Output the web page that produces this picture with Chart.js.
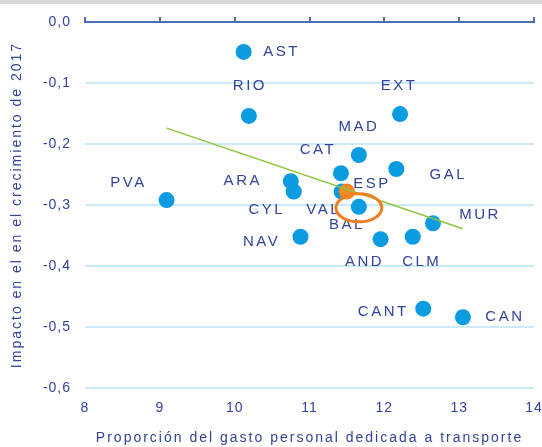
<!DOCTYPE html>
<html lang="es">
<head>
  <meta charset="UTF-8" />
  <title>Impacto vs gasto en transporte</title>
  <script src="https://cdn.jsdelivr.net/npm/chart.js"></script>
  <style>
    html, body { margin: 0; padding: 0; background: #ffffff; }
    .band { height: 4px; background: #d9d9d9; }
    .wrap { position: relative; width: 542px; height: 443px; }
  </style>
</head>
<body>
  <div class="band"></div>
  <div class="wrap"><canvas id="chart"></canvas></div>

  <script>
    // Regiones (etiquetas) y valores
    const regions = ['AST', 'RIO', 'EXT', 'MAD', 'CAT', 'GAL', 'ARA', 'CYL', 'VAL', 'BAL', 'MUR', 'NAV', 'AND', 'CLM', 'CANT', 'CAN', 'PVA'];
    const gastoTransporte = [10.12, 10.19, 12.21, 11.66, 11.42, 12.16, 10.75, 10.79, 11.43, 11.66, 12.65, 10.88, 11.95, 12.38, 12.52, 13.05, 9.09];
    const impacto = [-0.049, -0.154, -0.151, -0.218, -0.248, -0.241, -0.261, -0.278, -0.278, -0.303, -0.330, -0.352, -0.356, -0.352, -0.470, -0.484, -0.292];

    // Media de Espana
    const espLabel = 'ESP';
    const espX = [11.50];
    const espY = [-0.278];

    // Recta de tendencia
    const trendX = [9.09, 13.05];
    const trendY = [-0.174, -0.339];

    // Punto destacado con la elipse naranja
    const highlighted = 'BAL';

    // Ejes
    const xTicks = [8, 9, 10, 11, 12, 13, 14];
    const yTicks = [0, -0.1, -0.2, -0.3, -0.4, -0.5, -0.6];

    // Desplazamiento de cada etiqueta respecto a su punto (px)
    const labelOffsets = {
      AST: [37, 0], RIO: [0, -30], EXT: [-2, -28], MAD: [-1, -28], CAT: [-24, -23],
      GAL: [51, 6], ARA: [-49, 0], CYL: [-28, 18], VAL: [-19, 18], BAL: [-13, 18],
      MUR: [46, -8], NAV: [-40, 5], AND: [-17, 23], CLM: [8, 25], CANT: [-41, 3],
      CAN: [41, 0], PVA: [-39, -17], ESP: [24, -8]
    };

    const textColor = '#34439a';
    const font = 'Liberation Sans, Arial, sans-serif';

    const points = regions.map((r, i) => ({ x: gastoTransporte[i], y: impacto[i], label: r }));
    const espPoints = espX.map((x, i) => ({ x: x, y: espY[i], label: espLabel }));
    const trendPoints = trendX.map((x, i) => ({ x: x, y: trendY[i] }));

    // espaciado de letras para titulos y etiquetas de los ejes
    function spaced(axis) {
      if (axis._spaced) return;
      axis._spaced = true;
      const title = axis.drawTitle, labels = axis.drawLabels;
      axis.drawTitle = function () {
        this.ctx.save(); this.ctx.letterSpacing = '2px';
        title.apply(this, arguments); this.ctx.restore();
      };
      axis.drawLabels = function () {
        this.ctx.save(); this.ctx.letterSpacing = '1px';
        labels.apply(this, arguments); this.ctx.restore();
      };
    }

    const labelPlugin = {
      id: 'labels',
      afterDatasetsDraw(chart) {
        const ctx = chart.ctx;
        ctx.save();
        ctx.font = '15px ' + font;
        ctx.fillStyle = textColor;
        ctx.textAlign = 'center';
        ctx.textBaseline = 'middle';
        ctx.letterSpacing = '2.5px';
        [0, 1].forEach(di => {
          const meta = chart.getDatasetMeta(di);
          meta.data.forEach((el, i) => {
            const lab = chart.data.datasets[di].data[i].label;
            const off = labelOffsets[lab] || [0, 0];
            ctx.fillText(lab, el.x + off[0] + 1, el.y + off[1]);
          });
        });
        // elipse naranja
        const idx = regions.indexOf(highlighted);
        const el = chart.getDatasetMeta(0).data[idx];
        ctx.beginPath();
        ctx.ellipse(el.x, el.y + 1, 23, 14, 0, 0, Math.PI * 2);
        ctx.strokeStyle = '#f07f22';
        ctx.lineWidth = 3;
        ctx.stroke();
        ctx.restore();
      }
    };

    new Chart(document.getElementById('chart'), {
      type: 'scatter',
      data: {
        datasets: [
          {
            data: points,
            backgroundColor: '#0a9be0',
            borderWidth: 0,
            pointRadius: 8,
            order: 2
          },
          {
            data: espPoints,
            backgroundColor: '#f28a26',
            borderWidth: 0,
            pointRadius: 8,
            order: 1
          },
          {
            type: 'line',
            data: trendPoints,
            borderColor: '#8cc63f',
            borderWidth: 1.5,
            pointRadius: 0,
            fill: false,
            order: 0
          }
        ]
      },
      options: {
        responsive: true,
        maintainAspectRatio: false,
        animation: false,
        layout: { padding: 0 },
        plugins: {
          legend: { display: false },
          tooltip: { enabled: false }
        },
        scales: {
          x: {
            type: 'linear',
            position: 'bottom',
            min: 8, max: 14,
            afterBuildTicks: axis => { axis.ticks = xTicks.map(v => ({ value: v })); },
            afterFit: axis => { axis.height = 59; axis.paddingRight = 2; axis.paddingLeft = 0; spaced(axis); },
            grid: { display: false, drawTicks: false },
            border: { display: false },
            ticks: {
              color: textColor,
              font: { family: font, size: 14 },
              padding: 12
            },
            title: {
              display: true,
              text: 'Proporción del gasto personal dedicada a transporte',
              color: textColor,
              font: { family: font, size: 14 },
              padding: { top: 0, bottom: 0 }
            }
          },
          xTop: {
            type: 'linear',
            position: 'top',
            min: 8, max: 14,
            afterBuildTicks: axis => { axis.ticks = xTicks.map(v => ({ value: v })); },
            afterFit: axis => { axis.height = 18; axis.paddingRight = 2; axis.paddingLeft = 0; },
            grid: { drawOnChartArea: false, color: '#4a6fb5', lineWidth: 2, tickLength: 5 },
            border: { display: true, color: '#4a6fb5', width: 2 },
            ticks: { display: false }
          },
          y: {
            min: -0.6, max: 0,
            afterBuildTicks: axis => { axis.ticks = yTicks.map(v => ({ value: v })); },
            afterFit: axis => { axis.width = 85; axis.paddingTop = 0; axis.paddingBottom = 0; spaced(axis); },
            grid: {
              color: c => c.tick && c.tick.value === 0 ? 'rgba(0,0,0,0)' : '#cbeaf8',
              lineWidth: 2,
              drawTicks: false
            },
            border: { display: false },
            ticks: {
              color: textColor,
              font: { family: font, size: 14 },
              padding: 14,
              callback: v => v.toFixed(1).replace('.', ',')
            },
            title: {
              display: true,
              text: 'Impacto en el en el crecimiento de 2017',
              color: textColor,
              font: { family: font, size: 14 },
              padding: { top: 9, bottom: 0 }
            }
          }
        }
      },
      plugins: [labelPlugin]
    });
  </script>
</body>
</html>
